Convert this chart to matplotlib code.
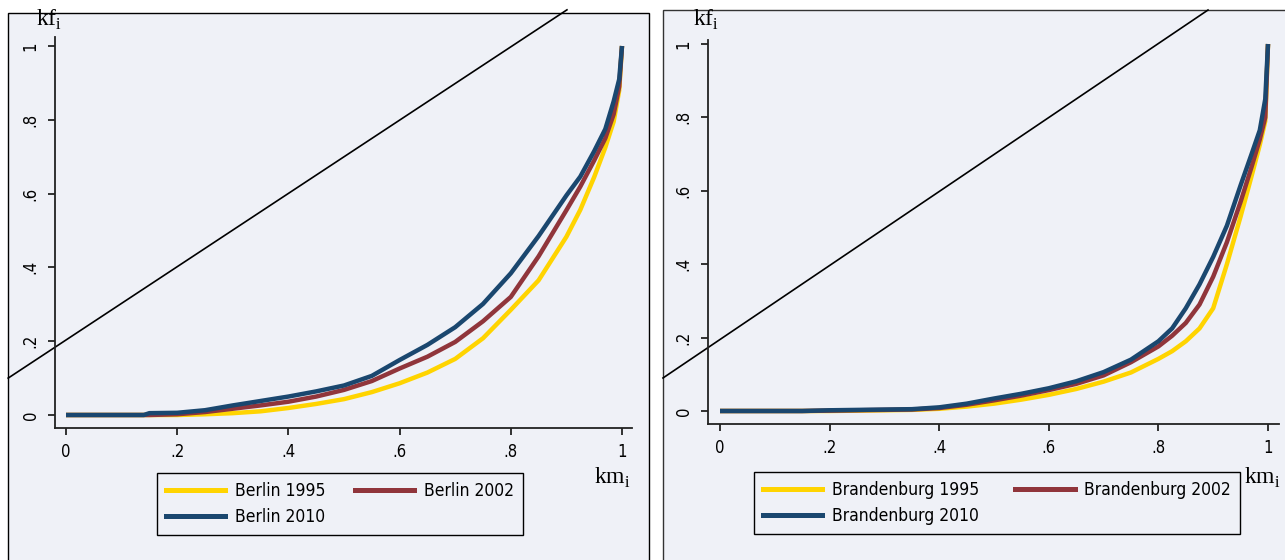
import matplotlib
matplotlib.use('Agg')
import matplotlib.pyplot as plt
from matplotlib.patches import Rectangle
from matplotlib.lines import Line2D
from matplotlib.font_manager import FontProperties

# shares of kilometres (x) and of cost/flow (y)
km_berlin = [0, 0.1, 0.14, 0.15, 0.2, 0.25, 0.3, 0.35, 0.4, 0.45, 0.5, 0.55, 0.6, 0.65,
             0.7, 0.75, 0.8, 0.85, 0.9, 0.925, 0.95, 0.97, 0.985, 0.995, 1.0]
berlin_1995 = [0, 0, 0, 0, 0, 0.002, 0.005, 0.01, 0.019, 0.03, 0.043, 0.062, 0.086, 0.115,
               0.152, 0.208, 0.285, 0.365, 0.483, 0.556, 0.645, 0.725, 0.795, 0.88, 1.0]
berlin_2002 = [0, 0, 0, 0, 0.002, 0.008, 0.017, 0.026, 0.036, 0.05, 0.068, 0.092, 0.126, 0.158,
               0.198, 0.254, 0.32, 0.43, 0.555, 0.619, 0.69, 0.75, 0.815, 0.89, 1.0]
berlin_2010 = [0, 0, 0, 0.005, 0.006, 0.013, 0.026, 0.038, 0.05, 0.064, 0.08, 0.106, 0.149, 0.19,
               0.238, 0.301, 0.384, 0.485, 0.595, 0.646, 0.715, 0.775, 0.85, 0.91, 1.0]

km_brand = [0, 0.1, 0.15, 0.2, 0.25, 0.3, 0.35, 0.4, 0.45, 0.5, 0.55, 0.6, 0.65, 0.7, 0.75,
            0.8, 0.825, 0.85, 0.875, 0.9, 0.925, 0.95, 0.97, 0.985, 0.995, 1.0]
brand_1995 = [0, 0, 0, 0, 0.001, 0.002, 0.003, 0.006, 0.012, 0.02, 0.031, 0.044, 0.06, 0.08,
              0.105, 0.142, 0.163, 0.19, 0.225, 0.28, 0.40, 0.53, 0.64, 0.725, 0.79, 1.0]
brand_2002 = [0, 0, 0, 0.001, 0.002, 0.003, 0.004, 0.008, 0.017, 0.029, 0.042, 0.057, 0.074,
              0.097, 0.133, 0.176, 0.205, 0.24, 0.29, 0.366, 0.46, 0.57, 0.665, 0.74, 0.80, 1.0]
brand_2010 = [0, 0, 0, 0.002, 0.003, 0.004, 0.005, 0.01, 0.02, 0.034, 0.047, 0.062, 0.081,
              0.106, 0.14, 0.19, 0.225, 0.28, 0.345, 0.42, 0.505, 0.615, 0.70, 0.765, 0.85, 1.0]

ticks = [0, 0.2, 0.4, 0.6, 0.8, 1]
tick_labels = ['0', '.2', '.4', '.6', '.8', '1']

years = ['1995', '2002', '2010']
colors = ['#ffd400', '#90353b', '#1a476f']
bg = '#eff1f7'
serif = ['Liberation Serif', 'DejaVu Serif']

W, H = 1285, 560
def fx(p):
    return p / W
def fy(p):
    return 1 - p / H

tick_font = FontProperties(family='DejaVu Sans', stretch='condensed', size=12)
leg_font = FontProperties(family='DejaVu Sans', stretch='condensed', size=12.5)

fig = plt.figure(figsize=(12.85, 5.6), dpi=100)

# panel frames, kept behind the axes
fig.patches.append(Rectangle((fx(8), fy(575)), fx(649) - fx(8), fy(13) - fy(575),
                             transform=fig.transFigure, facecolor=bg, edgecolor='black',
                             lw=1, zorder=-10))
fig.patches.append(Rectangle((fx(663), fy(575)), fx(1300) - fx(663), fy(10) - fy(575),
                             transform=fig.transFigure, facecolor=bg, edgecolor='#333333',
                             lw=1, zorder=-10))

panels = [
    dict(rect=(55, 632, 37, 428), x0=66, xs=556, y0=415, ys=369, km=km_berlin,
         series=[berlin_1995, berlin_2002, berlin_2010], name='Berlin',
         diag=([-0.104, 0.901], [0.100, 1.098]),
         leg=(340, 504), legsp=1.7, kf=(49, 20), kmx=(612, 478)),
    dict(rect=(708, 1279, 40, 424), x0=720, xs=548, y0=411, ys=367, km=km_brand,
         series=[brand_1995, brand_2002, brand_2010], name='Brandenburg',
         diag=([-0.104, 0.8905], [0.090, 1.0926]),
         leg=(997, 503), legsp=2.1, kf=(706, 20), kmx=(1262, 478)),
]

for p in panels:
    l, r, t, b = p['rect']
    ax = fig.add_axes([fx(l), fy(b), fx(r) - fx(l), fy(t) - fy(b)])
    ax.set_facecolor('none')
    ax.set_xlim((l - p['x0']) / p['xs'], (r - p['x0']) / p['xs'])
    ax.set_ylim((p['y0'] - b) / p['ys'], (p['y0'] - t) / p['ys'])
    for s in ['top', 'right']:
        ax.spines[s].set_visible(False)
    for s in ['left', 'bottom']:
        ax.spines[s].set_color('#222222')
        ax.spines[s].set_linewidth(1.3)
    ax.set_xticks(ticks)
    ax.set_xticklabels(tick_labels, fontproperties=tick_font)
    ax.set_yticks(ticks)
    ax.set_yticklabels(tick_labels, fontproperties=tick_font, rotation=90, va='center')
    ax.tick_params(length=5, width=1.3, color='#222222', pad=6)

    ax.plot(p['diag'][0], p['diag'][1], color='black', lw=1.2, clip_on=False)
    for vals, c in zip(p['series'], colors):
        ax.plot(p['km'], vals, color=c, lw=3.2, solid_capstyle='butt')

    # column-major filling: 1995 / 2010 in the first column, 2002 in the second
    order = [0, 2, 1]
    handles = [Line2D([], [], color=colors[i], lw=3.6) for i in order]
    labels = [p['name'] + ' ' + years[i] for i in order]
    leg = ax.legend(handles, labels, ncol=2, loc='center',
                    bbox_to_anchor=(fx(p['leg'][0]), fy(p['leg'][1])),
                    bbox_transform=fig.transFigure, prop=leg_font,
                    frameon=True, fancybox=False, framealpha=1, facecolor=bg,
                    edgecolor='black', handlelength=3.4, handletextpad=0.55,
                    columnspacing=p['legsp'], labelspacing=0.45, borderpad=0.55)
    leg.get_frame().set_linewidth(1)

    fig.text(fx(p['kf'][0]), fy(p['kf'][1]), r'kf$_\mathregular{i}$', ha='center', va='center',
             family=serif, fontsize=17)
    fig.text(fx(p['kmx'][0]), fy(p['kmx'][1]), r'km$_\mathregular{i}$', ha='center', va='center',
             family=serif, fontsize=17)

fig.savefig('out.png', dpi=100, facecolor='white')
